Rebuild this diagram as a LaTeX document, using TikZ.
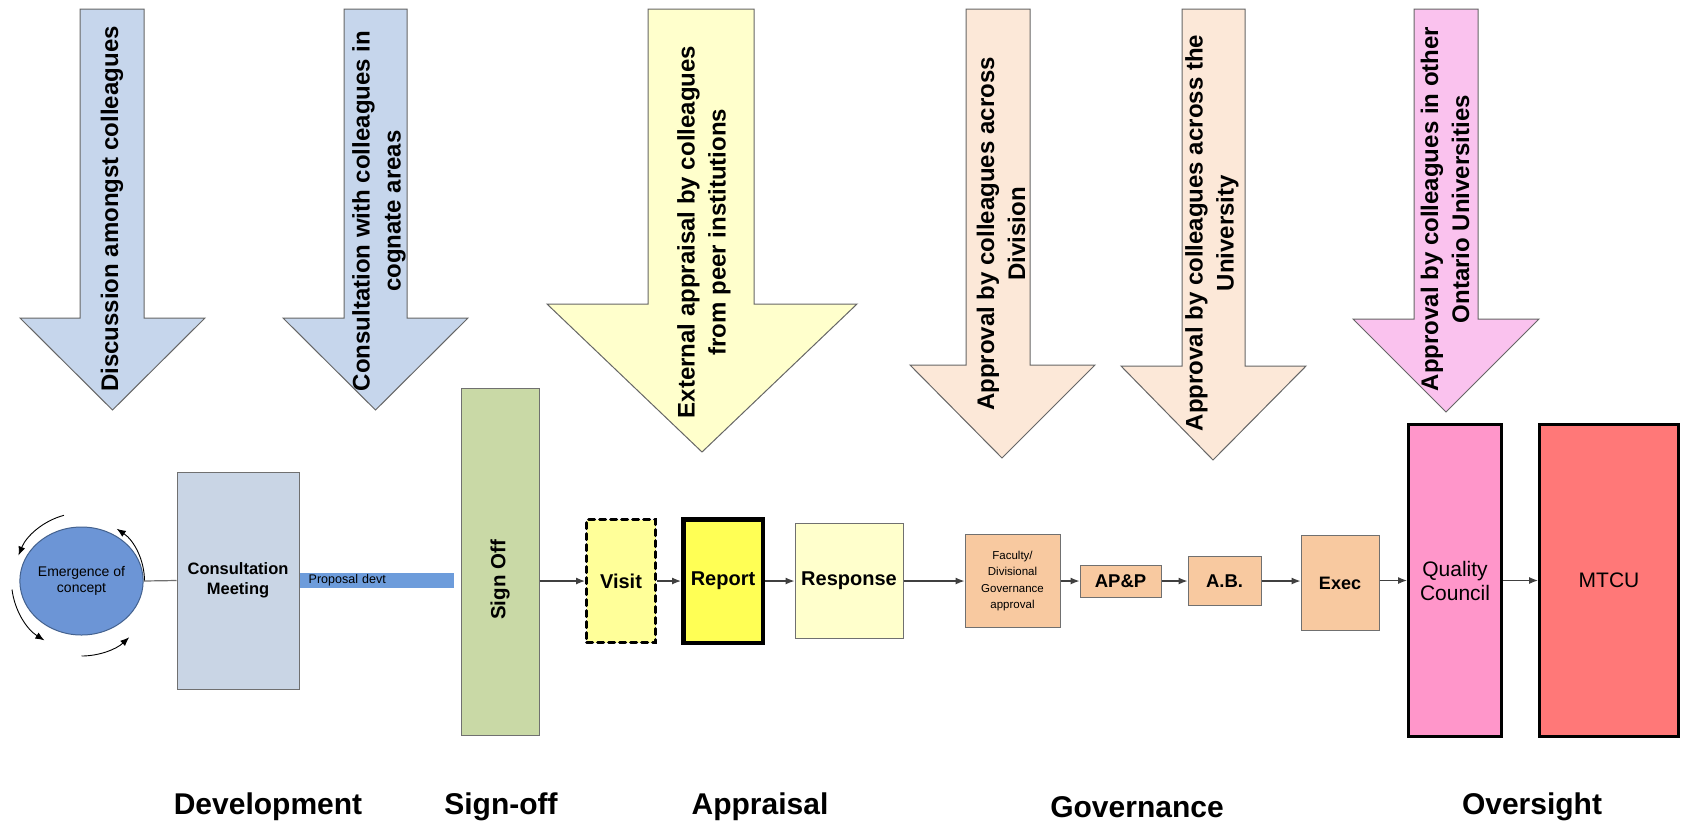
\documentclass[tikz,border=0pt]{standalone}
\usepackage{fontspec}
\setmainfont{Liberation Sans}
\usetikzlibrary{arrows.meta,shapes.geometric}
\definecolor{arrblue}{HTML}{C6D6EC}
\definecolor{arryel}{HTML}{FFFFCC}
\definecolor{arrpeach}{HTML}{FCE8D8}
\definecolor{arrpink}{HTML}{FAC2EE}
\definecolor{circfill}{HTML}{6C95D6}
\definecolor{circline}{HTML}{44628F}
\definecolor{consfill}{HTML}{C9D5E5}
\definecolor{propfill}{HTML}{6D9CDB}
\definecolor{signfill}{HTML}{C9D9A6}
\definecolor{visitfill}{HTML}{FFFF99}
\definecolor{reportfill}{HTML}{FFFF55}
\definecolor{respfill}{HTML}{FFFFCC}
\definecolor{peach}{HTML}{F8C9A0}
\definecolor{qcfill}{HTML}{FF96CA}
\definecolor{mtcufill}{HTML}{FF7878}
\definecolor{boxline}{HTML}{707070}
\definecolor{arrline}{HTML}{666666}
\definecolor{connline}{HTML}{404040}
\begin{document}
\begin{tikzpicture}[x=1pt,y=1pt,
  barrow/.style={draw=arrline, line width=1pt, line join=miter},
  atext/.style={rotate=90, font=\fontsize{24}{31}\selectfont\bfseries, align=center, inner sep=0pt},
  gbox/.style={draw=boxline, line width=1pt, rectangle, inner sep=0pt, align=center},
  conn/.style={draw=connline, line width=1.2pt, -{Latex[length=9pt,width=7pt]}},
  cyc/.style={draw=black, line width=0.9pt, -{Latex[length=9pt,width=7pt]}},
  phase/.style={font=\fontsize{30}{30}\selectfont\bfseries, inner sep=0pt}
]
\useasboundingbox (0,0) rectangle (1683,-823);
\fill[white] (0,0) rectangle (1683,-823);

% ---- block arrows ----
\draw[barrow, fill=arrblue] (80,-9) -- (144,-9) -- (144,-318) -- (205,-318) -- (112.5,-410) -- (20,-318) -- (80,-318) -- cycle;
\draw[barrow, fill=arrblue] (344,-9) -- (407,-9) -- (407,-318) -- (468,-318) -- (375.5,-410) -- (283,-318) -- (344,-318) -- cycle;
\draw[barrow, fill=arryel] (648,-9) -- (754,-9) -- (754,-304) -- (857,-304) -- (702,-452) -- (547,-304) -- (648,-304) -- cycle;
\draw[barrow, fill=arrpeach] (966,-9) -- (1030,-9) -- (1030,-365) -- (1095,-365) -- (1002,-458) -- (910,-365) -- (966,-365) -- cycle;
\draw[barrow, fill=arrpeach] (1182,-9) -- (1245,-9) -- (1245,-366) -- (1306,-366) -- (1213,-460) -- (1121,-366) -- (1182,-366) -- cycle;
\draw[barrow, fill=arrpink] (1414,-9) -- (1478,-9) -- (1478,-319) -- (1539,-319) -- (1446,-412) -- (1353,-319) -- (1414,-319) -- cycle;

\node[atext] (a1) at (112,-209) {Discussion amongst colleagues};
\node[atext] (a2) at (379,-211) {Consultation with colleagues in\\cognate areas};
\node[atext] (a3) at (704,-232) {External appraisal by colleagues\\from peer institutions};
\node[atext] (a4) at (1001,-234) {Approval by colleagues across\\Division};
\node[atext] (a5) at (1212,-233) {Approval by colleagues across the\\University};
\node[atext] (a6) at (1445,-209) {Approval by colleagues in other\\Ontario Universities};

% ---- development ----
\node[ellipse, draw=circline, line width=1pt, fill=circfill, minimum width=102pt, minimum height=108pt, inner sep=0pt, align=center, font=\fontsize{14}{15.5}\selectfont] (emg) at (81.5,-581) {Emergence of\\concept};
\coordinate (cc) at (81.5,-581);
\draw[cyc] ([shift={(105:68pt)}]cc) arc[start angle=105, end angle=158, radius=68pt];
\draw[cyc] ([shift={(0:63pt)}]cc) arc[start angle=0, end angle=56, radius=63pt];
\draw[cyc] ([shift={(187:70pt)}]cc) arc[start angle=187, end angle=238, radius=70pt];
\draw[cyc] ([shift={(270:75pt)}]cc) arc[start angle=270, end angle=313, radius=70pt];

\node[gbox, fill=consfill, minimum width=122pt, minimum height=217pt, font=\fontsize{16.5}{20}\selectfont\bfseries] (cons) at (238,-580.5) {Consultation\\Meeting};
\draw[draw=boxline, line width=1.2pt] (emg.east) -- (cons.west);
\node[rectangle, fill=propfill, anchor=west, minimum height=15pt, text width=136pt, inner xsep=9pt, inner ysep=0pt, align=left, font=\fontsize{12.5}{13}\selectfont] (prop) at (cons.east) {Proposal devt};

% ---- sign-off ----
\node[gbox, fill=signfill, minimum width=78pt, minimum height=347pt] (sign) at (500,-561.5) {};
\node[rotate=90, inner sep=0pt, font=\fontsize{20.5}{22}\selectfont\bfseries] (signT) at (500,-580) {Sign Off};

% ---- appraisal ----
\node[rectangle, draw=black, line width=3pt, dash pattern=on 6pt off 5pt, line cap=round, fill=visitfill, minimum width=69pt, minimum height=123pt, inner sep=0pt, font=\fontsize{20}{24}\selectfont\bfseries] (visit) at (621,-581) {Visit};
\node[rectangle, draw=black, line width=4.5pt, fill=reportfill, minimum width=79.5pt, minimum height=123.5pt, inner sep=0pt, font=\fontsize{20}{24}\selectfont\bfseries] (report) at (723,-581) {Report};
\node[gbox, fill=respfill, minimum width=108pt, minimum height=115pt, font=\fontsize{20}{24}\selectfont\bfseries] (resp) at (849,-581) {Response};

% ---- governance ----
\node[gbox, fill=peach, minimum width=95pt, minimum height=93pt, font=\fontsize{11.5}{16.5}\selectfont] (fac) at (1012.5,-581) {Faculty/\\Divisional\\Governance\\approval};
\node[gbox, fill=peach, minimum width=81pt, minimum height=32pt, font=\fontsize{18.5}{22}\selectfont\bfseries] (apap) at (1120.5,-581) {AP\&P};
\node[gbox, fill=peach, minimum width=73pt, minimum height=49pt, font=\fontsize{18.5}{22}\selectfont\bfseries] (ab) at (1224.5,-581) {A.B.};
\node[gbox, fill=peach, minimum width=78pt, minimum height=95pt, font=\fontsize{18}{22}\selectfont\bfseries] (exec) at (1340,-583) {Exec};

% ---- oversight ----
\node[rectangle, draw=black, line width=3pt, fill=qcfill, minimum width=93pt, minimum height=312pt, inner sep=0pt, align=center, font=\fontsize{21}{24}\selectfont] (qc) at (1455,-580.5) {Quality\\Council};
\node[rectangle, draw=black, line width=3pt, fill=mtcufill, minimum width=139pt, minimum height=312pt, inner sep=0pt, font=\fontsize{21}{24}\selectfont] (mtcu) at (1609,-580.5) {MTCU};

% ---- connectors ----
\draw[conn] (sign.east |- visit.west) -- (visit.west);
\draw[conn] (visit.east) -- (report.west);
\draw[conn] (report.east) -- (resp.west);
\draw[conn] (resp.east) -- (fac.west);
\draw[conn] (fac.east) -- (apap.west);
\draw[conn] (apap.east) -- (ab.west);
\draw[conn] (ab.east) -- (exec.west |- ab.east);
\draw[conn] (exec.east |- qc.west) -- (qc.west);
\draw[conn] (qc.east) -- (mtcu.west);

% ---- phase labels ----
\node[phase] (p1) at (268,-807) {Development};
\node[phase] (p2) at (501,-807) {Sign-off};
\node[phase] (p3) at (760,-807) {Appraisal};
\node[phase] (p4) at (1137,-807) {Governance};
\node[phase] (p5) at (1532,-807) {Oversight};
\end{tikzpicture}
\end{document}
